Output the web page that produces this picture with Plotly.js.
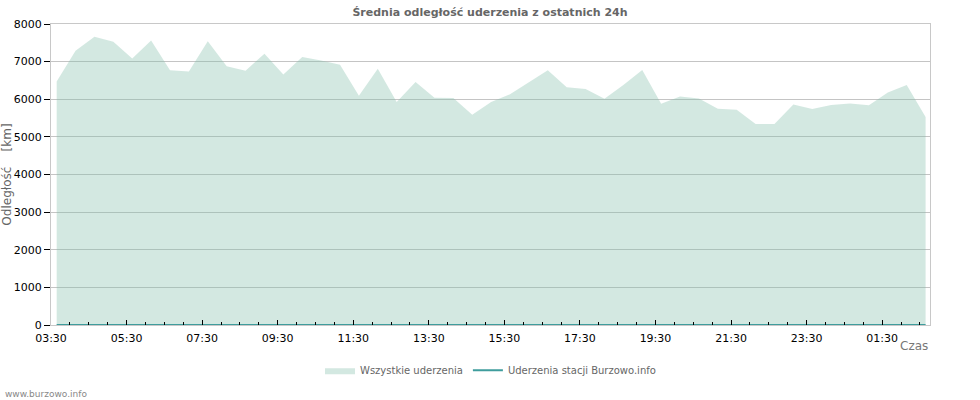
<!DOCTYPE html>
<html>
<head>
<meta charset="utf-8">
<script src="https://cdn.plot.ly/plotly-3.0.1.min.js"></script>
<style>
  html, body { margin: 0; padding: 0; background: #fff; }
  #chart { width: 980px; height: 400px; }
</style>
</head>
<body>
<div id="chart"></div>
<script>
/* Średnia odległość uderzenia - ostatnie 24h */

const times = [
    '2024-06-10 03:39', '2024-06-10 04:09', '2024-06-10 04:39', '2024-06-10 05:09',
    '2024-06-10 05:39', '2024-06-10 06:09', '2024-06-10 06:39', '2024-06-10 07:09',
    '2024-06-10 07:39', '2024-06-10 08:09', '2024-06-10 08:39', '2024-06-10 09:09',
    '2024-06-10 09:39', '2024-06-10 10:09', '2024-06-10 10:39', '2024-06-10 11:09',
    '2024-06-10 11:39', '2024-06-10 12:09', '2024-06-10 12:39', '2024-06-10 13:09',
    '2024-06-10 13:39', '2024-06-10 14:09', '2024-06-10 14:39', '2024-06-10 15:09',
    '2024-06-10 15:39', '2024-06-10 16:09', '2024-06-10 16:39', '2024-06-10 17:09',
    '2024-06-10 17:39', '2024-06-10 18:09', '2024-06-10 18:39', '2024-06-10 19:09',
    '2024-06-10 19:39', '2024-06-10 20:09', '2024-06-10 20:39', '2024-06-10 21:09',
    '2024-06-10 21:39', '2024-06-10 22:09', '2024-06-10 22:39', '2024-06-10 23:09',
    '2024-06-10 23:39', '2024-06-11 00:09', '2024-06-11 00:39', '2024-06-11 01:09',
    '2024-06-11 01:39', '2024-06-11 02:09', '2024-06-11 02:39'
];

// średnia odległość wszystkich uderzeń [km]
const allStrikes = [
    6470, 7290, 7660, 7530, 7080, 7560, 6770, 6740, 7540, 6880, 6760, 7210,
    6660, 7120, 7030, 6920, 6090, 6810, 5930, 6460, 6040, 6030, 5590, 5930,
    6130, 6440, 6770, 6320, 6270, 6010, 6380, 6780, 5880, 6070, 6020, 5750,
    5720, 5340, 5340, 5860, 5740, 5850, 5890, 5840, 6180, 6380, 5530
];

// uderzenia wykryte przez stację Burzowo.info
const stationStrikes = [
    0, 0, 0, 0, 0, 0, 0, 0, 0, 0, 0, 0, 0, 0, 0, 0, 0, 0, 0, 0, 0, 0, 0, 0,
    0, 0, 0, 0, 0, 0, 0, 0, 0, 0, 0, 0, 0, 0, 0, 0, 0, 0, 0, 0, 0, 0, 0
];

const seriesNames = ['Wszystkie uderzenia', 'Uderzenia stacji Burzowo.info'];
const xRange = ['2024-06-10 03:30', '2024-06-11 02:46'];
const yRange = [0, 8000];

const FONT = 'DejaVu Sans, Verdana, sans-serif';

const data = [
    {
        type: 'scatter',
        mode: 'lines',
        name: seriesNames[0],
        x: times,
        y: allStrikes,
        fill: 'tozeroy',
        fillcolor: 'rgba(132,192,172,0.36)',
        line: { width: 0, color: 'rgba(132,192,172,0.36)' },
        hoverinfo: 'skip'
    },
    {
        type: 'scatter',
        mode: 'lines',
        name: seriesNames[1],
        x: times,
        y: stationStrikes,
        line: { width: 2, color: '#3f9d9d' },
        hoverinfo: 'skip'
    }
];

const layout = {
    width: 980,
    height: 400,
    margin: { l: 51, r: 50, t: 24, b: 75 },
    paper_bgcolor: '#fff',
    plot_bgcolor: '#fff',
    font: { family: FONT, size: 11, color: '#000' },
    title: {
        text: '<b>Średnia odległość uderzenia z ostatnich 24h</b>',
        font: { family: FONT, size: 11, color: '#666' },
        x: 0.5,
        xanchor: 'center',
        yref: 'container',
        y: 0.97,
        yanchor: 'middle'
    },
    xaxis: {
        type: 'date',
        range: xRange,
        tick0: '2024-06-10 03:30',
        dtick: 7200000,
        tickformat: '%H:%M',
        ticks: 'inside',
        ticklen: 5,
        tickcolor: '#000',
        ticklabelstandoff: 3,
        tickfont: { family: FONT, size: 11, color: '#000' },
        minor: { dtick: 1800000, ticks: 'inside', ticklen: 3, tickcolor: '#000', showgrid: false },
        showgrid: false,
        zeroline: false,
        showline: true,
        linecolor: '#c8c8c8',
        linewidth: 1,
        mirror: true,
        fixedrange: true
    },
    yaxis: {
        range: yRange,
        dtick: 1000,
        ticks: 'outside',
        ticklen: 6,
        tickcolor: '#000',
        tickfont: { family: FONT, size: 11, color: '#000' },
        showgrid: true,
        gridcolor: '#c4c4c4',
        gridwidth: 1,
        zeroline: false,
        showline: true,
        linecolor: '#c8c8c8',
        linewidth: 1,
        mirror: true,
        title: {
            text: 'Odległość&nbsp;&nbsp;&nbsp;&nbsp;[km]',
            font: { family: FONT, size: 12, color: '#666' },
            standoff: 4
        },
        fixedrange: true
    },
    showlegend: true,
    legend: {
        orientation: 'h',
        x: 0.5,
        xanchor: 'center',
        y: -0.15,
        yanchor: 'middle',
        font: { family: FONT, size: 10, color: '#666' },
        itemwidth: 30,
        bgcolor: 'rgba(0,0,0,0)'
    },
    annotations: [
        {
            text: 'Czas',
            xref: 'paper', yref: 'paper',
            x: 1, y: -0.07,
            xanchor: 'right', yanchor: 'middle',
            showarrow: false,
            font: { family: FONT, size: 12, color: '#777' }
        },
        {
            text: 'www.burzowo.info',
            xref: 'paper', yref: 'paper',
            x: -0.055, y: -0.23,
            xanchor: 'left', yanchor: 'middle',
            showarrow: false,
            font: { family: FONT, size: 9, color: '#888' }
        }
    ]
};

Plotly.newPlot('chart', data, layout, { displayModeBar: false, staticPlot: true });
</script>
</body>
</html>
